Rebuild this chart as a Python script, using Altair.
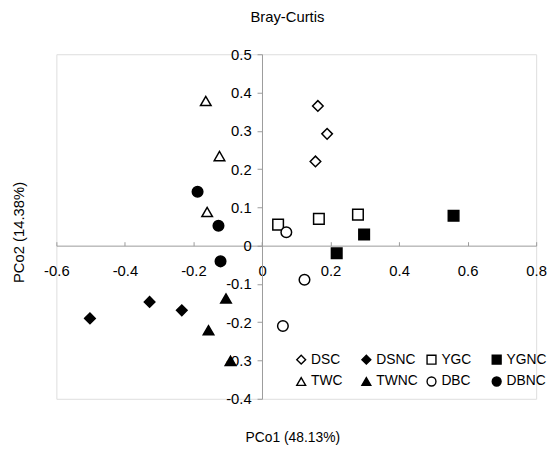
import altair as alt
import pandas as pd

# ---- data ----
groups = ["DSC", "DSNC", "YGC", "YGNC", "TWC", "TWNC", "DBC", "DBNC"]
dsc_x = [0.163, 0.190, 0.156]
dsc_y = [0.365, 0.292, 0.220]
dsnc_x = [-0.502, -0.328, -0.234]
dsnc_y = [-0.190, -0.147, -0.169]
ygc_x = [0.047, 0.166, 0.280]
ygc_y = [0.055, 0.070, 0.081]
ygnc_x = [0.559, 0.298, 0.218]
ygnc_y = [0.078, 0.029, -0.020]
twc_x = [-0.164, -0.124, -0.160]
twc_y = [0.378, 0.234, 0.088]
twnc_x = [-0.105, -0.156, -0.092]
twnc_y = [-0.138, -0.221, -0.301]
dbc_x = [0.071, 0.124, 0.061]
dbc_y = [0.035, -0.089, -0.210]
dbnc_x = [-0.188, -0.127, -0.121]
dbnc_y = [0.141, 0.052, -0.041]

x_ticks = [-0.6, -0.4, -0.2, 0, 0.2, 0.4, 0.6, 0.8]
y_ticks = [-0.4, -0.3, -0.2, -0.1, 0, 0.1, 0.2, 0.3, 0.4, 0.5]
shapes = ["diamond", "diamond", "square", "square", "triangle-up", "triangle-up", "circle", "circle"]
fills = ["white", "black", "white", "black", "white", "black", "white", "black"]
strokes = ["black"] * 8

series = {
    "DSC": (dsc_x, dsc_y), "DSNC": (dsnc_x, dsnc_y), "YGC": (ygc_x, ygc_y),
    "YGNC": (ygnc_x, ygnc_y), "TWC": (twc_x, twc_y), "TWNC": (twnc_x, twnc_y),
    "DBC": (dbc_x, dbc_y), "DBNC": (dbnc_x, dbnc_y),
}
rows = []
for g in groups:
    xs, ys = series[g]
    for a, b in zip(xs, ys):
        rows.append({"group": g, "x": a, "y": b})
df = pd.DataFrame(rows)

W, H = 486, 349
LEFT, TOP = 57, 52  # page position of plot area
XMIN, XMAX, YMIN, YMAX = -0.6, 0.8, -0.4, 0.5
x0 = (0 - XMIN) / (XMAX - XMIN) * W
y0 = (YMAX - 0) / (YMAX - YMIN) * H

FONT = "Liberation Sans"
GRAY = "#9a9a9a"

xscale = alt.Scale(domain=[XMIN, XMAX], nice=False, zero=False)
yscale = alt.Scale(domain=[YMIN, YMAX], nice=False, zero=False)

legend = alt.Legend(
    orient="none", legendX=241, legendY=302, columns=4, direction="horizontal", title=None,
    labelFontSize=14, labelFont=FONT, labelColor="black",
    symbolSize=81, symbolStrokeWidth=1.4,
    labelOffset=3, columnPadding=6, rowPadding=6.5, padding=0, gridAlign="all",
)

bottom_axis = alt.Axis(
    orient="bottom", offset=-(H - y0), values=x_ticks, ticks=False,
    labelPadding=18, labelFontSize=15, labelFont=FONT, labelColor="black",
    labelExpr="toString(datum.value)", labelFlush=False, labelOverlap=False,
    domainColor=GRAY, grid=False,
    title="PCo1 (48.13%)", titleFont=FONT, titleFontSize=14, titleFontWeight="normal",
    titleColor="black", titleX=296 - LEFT, titleY=440 - (TOP + y0), titleBaseline="middle",
    titleAlign="center",
)
top_axis = alt.Axis(
    orient="top", offset=-y0, values=x_ticks, ticks=True, tickSize=4,
    tickColor=GRAY, labels=False, domain=False, grid=False, title=None,
)
left_axis = alt.Axis(
    orient="left", offset=-x0, values=y_ticks, tickSize=5, tickColor=GRAY,
    labelPadding=6, labelFontSize=15, labelFont=FONT, labelColor="black",
    labelExpr="toString(datum.value)", labelFlush=False, labelOverlap=False,
    domainColor=GRAY, grid=False,
    title="PCo2 (14.38%)", titleFont=FONT, titleFontSize=15, titleFontWeight="normal",
    titleColor="black", titleAngle=270, titleX=19 - (LEFT + x0), titleY=232 - TOP,
    titleBaseline="middle", titleAlign="center",
)

base = alt.Chart(df)
points = base.mark_point(strokeWidth=1.5, size=115, opacity=1, fillOpacity=1).encode(
    x=alt.X("x:Q", scale=xscale, axis=bottom_axis),
    y=alt.Y("y:Q", scale=yscale, axis=left_axis),
    shape=alt.Shape("group:N", scale=alt.Scale(domain=groups, range=shapes), legend=legend),
    fill=alt.Fill("group:N", scale=alt.Scale(domain=groups, range=fills), legend=legend),
    stroke=alt.Stroke("group:N", scale=alt.Scale(domain=groups, range=strokes), legend=legend),
)
tick_layer = base.mark_point(opacity=0).encode(
    x=alt.X("x:Q", scale=xscale, axis=top_axis),
)

chart = alt.layer(points, tick_layer).resolve_axis(x="independent").properties(
    width=W, height=H,
    title=alt.TitleParams("Bray-Curtis", font=FONT, fontSize=15, fontWeight="normal",
                          color="black", anchor="middle", dx=-9, offset=16,
                          baseline="middle", frame="group"),
    autosize=alt.AutoSizeParams(type="none"),
    padding={"left": LEFT - 8, "top": TOP - 8, "right": 12, "bottom": 46},
).configure_view(stroke=GRAY, strokeWidth=2).configure(background="white")

chart.save("out.html", embed_options={"renderer": "svg", "actions": False})
